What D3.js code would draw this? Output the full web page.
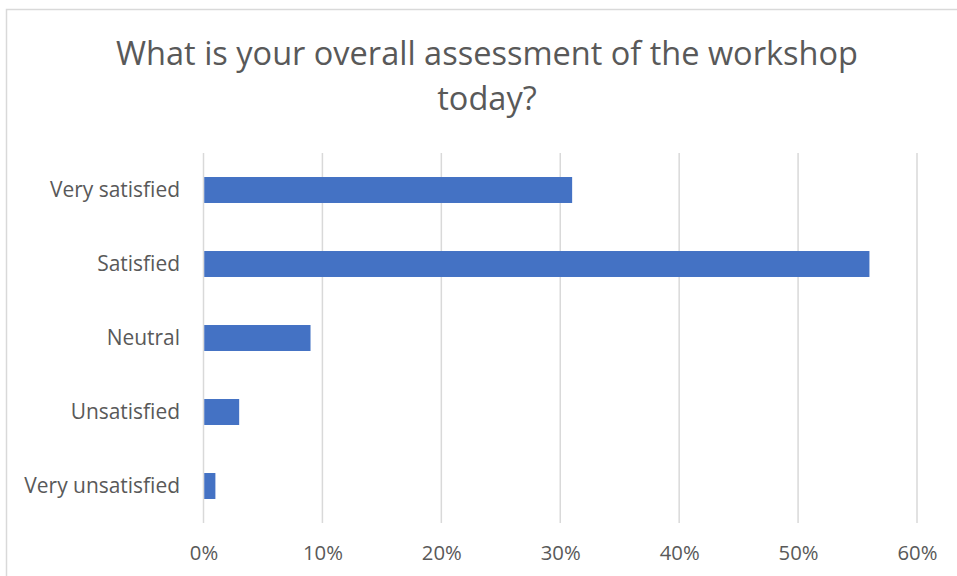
<!DOCTYPE html>
<html>
<head>
<meta charset="utf-8">
<script src="https://cdn.jsdelivr.net/npm/d3@7"></script>
<style>
  html, body { margin: 0; padding: 0; background: #ffffff; }
  svg { display: block; }
  text { font-family: "Open Sans", "Noto Sans", sans-serif; fill: #595959; }
</style>
</head>
<body>
<svg id="chart" width="957" height="576"></svg>
<script>
// Survey responses (share of respondents)
const categories = ["Very satisfied", "Satisfied", "Neutral", "Unsatisfied", "Very unsatisfied"];
const shares = [0.31, 0.56, 0.09, 0.03, 0.01];
const tickValues = [0, 0.1, 0.2, 0.3, 0.4, 0.5, 0.6];
const titleLines = ["What is your overall assessment of the workshop", "today?"];

const svg = d3.select("#chart");
const W = 957, H = 576;

// chart frame (only the left and top edges fall inside the page)
svg.append("rect")
  .attr("x", 6.5).attr("y", 9.5)
  .attr("width", 980).attr("height", 600)
  .attr("fill", "#ffffff")
  .attr("stroke", "#d9d9d9")
  .attr("stroke-width", 1.5);

const plot = { left: 203.5, right: 917, top: 153, bottom: 523 };

const x = d3.scaleLinear().domain([0, 0.6]).range([plot.left, plot.right]);
const y = d3.scaleBand().domain(categories).range([plot.top, plot.bottom])
  .paddingInner(0.649).paddingOuter(0.3245);

// fit a text element's font size so that it spans a given width
function fitWidth(sel, target, start) {
  sel.style("font-size", start + "px");
  const w = sel.node().getComputedTextLength();
  sel.style("font-size", (start * target / w) + "px");
}

// title
const title = svg.append("g");
const t1 = title.append("text").attr("x", 487).attr("y", 65)
  .attr("text-anchor", "middle").text(titleLines[0]);
fitWidth(t1, 742, 30);
const titleSize = parseFloat(t1.style("font-size"));
title.append("text").attr("x", 487).attr("y", 110)
  .attr("text-anchor", "middle").style("font-size", titleSize + "px")
  .text(titleLines[1]);

// vertical gridlines
svg.append("g")
  .selectAll("line")
  .data(tickValues)
  .join("line")
  .attr("x1", d => x(d)).attr("x2", d => x(d))
  .attr("y1", plot.top).attr("y2", plot.bottom)
  .attr("stroke", "#d9d9d9")
  .attr("stroke-width", 1.5);

// bars
svg.append("g")
  .selectAll("rect")
  .data(categories)
  .join("rect")
  .attr("x", x(0) + 0.75)
  .attr("y", d => y(d))
  .attr("height", y.bandwidth())
  .attr("width", (d, i) => x(shares[i]) - x(0) - 0.75)
  .attr("fill", "#4472c4");

// x axis labels
const xAxis = d3.axisBottom(x).tickValues(tickValues)
  .tickFormat(d3.format(".0%")).tickSize(0).tickPadding(0);
const gx = svg.append("g").attr("transform", `translate(0,${plot.bottom})`).call(xAxis);
gx.select(".domain").remove();
gx.selectAll("text")
  .attr("y", 0).attr("dy", 0)
  .attr("transform", "translate(0,37)")
  .style("fill", "#595959")
  .style("font-family", '"Open Sans", "Noto Sans", sans-serif');
const probe = gx.selectAll("text").filter(d => d === 0.1);
fitWidth(probe, 40, 18);
const tickSize = parseFloat(probe.style("font-size"));
gx.selectAll("text").style("font-size", tickSize + "px");

// category labels
const yAxis = d3.axisLeft(y).tickSize(0).tickPadding(0);
const gy = svg.append("g").attr("transform", "translate(180,0)").call(yAxis);
gy.select(".domain").remove();
gy.selectAll("text")
  .attr("x", 0).attr("dy", "0.35em")
  .style("fill", "#595959")
  .style("font-family", '"Open Sans", "Noto Sans", sans-serif');
const probe2 = gy.selectAll("text").filter(d => d === "Very satisfied");
fitWidth(probe2, 130, 18);
const catSize = parseFloat(probe2.style("font-size"));
gy.selectAll("text").style("font-size", catSize + "px");
</script>
</body>
</html>
